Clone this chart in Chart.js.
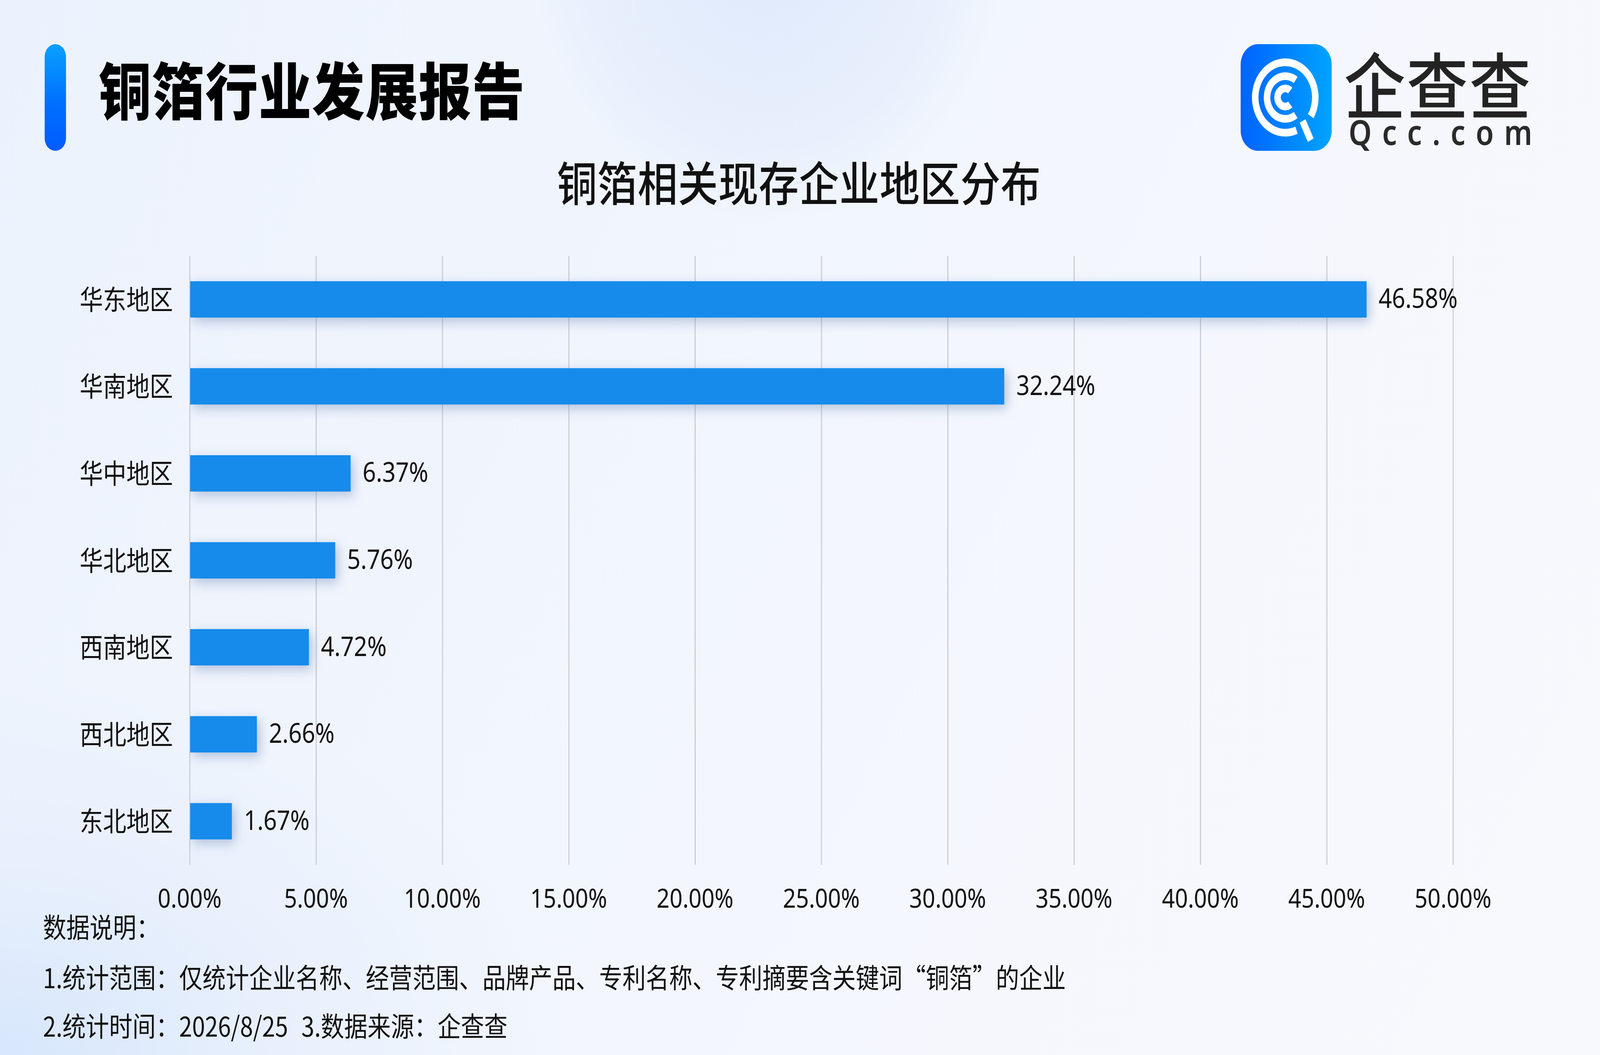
<!DOCTYPE html>
<html lang="zh-CN">
<head>
<meta charset="utf-8">
<title>铜箔行业发展报告</title>
<script src="https://cdn.jsdelivr.net/npm/chart.js@4.4.1/dist/chart.umd.min.js"></script>
<style>
  html, body {
    margin: 0;
    padding: 0;
    overflow: hidden;
    background: #f2f6fd;
  }
  #stage {
    width: 4800px;
    height: 2700px;
    position: absolute;
    left: 0;
    top: 0;
    transform-origin: 0 0;
    overflow: hidden;
    font-family: 'Noto Sans', 'Noto Sans CJK SC', sans-serif;
    color: #111;
    background:
      radial-gradient(circle at 2300px -150px, rgba(220, 232, 252, 0.9) 0px, rgba(226, 236, 252, 0.6) 520px, rgba(240, 245, 253, 0) 720px),
      radial-gradient(ellipse at 0px 2700px, rgba(214, 230, 252, 0.95) 0px, rgba(226, 236, 252, 0.5) 900px, rgba(240, 245, 253, 0) 1700px),
      linear-gradient(120deg, #ecf2fd 0%, #f2f6fd 45%, #f8f9fd 100%);
  }
  .accent {
    position: absolute;
    left: 134px;
    top: 113px;
    width: 64px;
    height: 273px;
    border-radius: 32px;
    background: linear-gradient(180deg, #0aa0ff 0%, #0070ff 55%, #005cff 100%);
  }
  .title {
    position: absolute;
    left: 296px;
    top: 142px;
    font-family: 'Noto Sans CJK SC', sans-serif;
    font-weight: 900;
    font-size: 158px;
    line-height: 166px;
    letter-spacing: 2px;
    color: #000;
    white-space: nowrap;
  }
  .subtitle {
    position: absolute;
    left: 0;
    width: 4794px;
    top: 393px;
    text-align: center;
    font-family: 'Noto Sans CJK SC', sans-serif;
    font-weight: 500;
    font-size: 120px;
    line-height: 140px;
    letter-spacing: 1px;
    color: #111;
  }
  #logoIcon {
    position: absolute;
    left: 3722px;
    top: 113px;
  }
  .brand {
    position: absolute;
    left: 4032px;
    top: 110px;
    font-family: 'Noto Sans CJK SC', sans-serif;
    font-weight: 500;
    font-size: 184px;
    line-height: 200px;
    letter-spacing: 4px;
    color: #232323;
    white-space: nowrap;
  }
  .brand-en {
    position: absolute;
    left: 4046px;
    top: 282px;
    font-family: 'Noto Sans', sans-serif;
    font-weight: 600;
    font-size: 88px;
    line-height: 110px;
    letter-spacing: 31px;
    color: #2a2a2a;
    white-space: nowrap;
  }
  #chartBox {
    position: absolute;
    left: 0;
    top: 0;
    width: 4800px;
    height: 2700px;
  }
  .note {
    position: absolute;
    left: 129px;
    font-family: 'Noto Sans CJK SC', sans-serif;
    font-size: 70px;
    line-height: 80px;
    color: #111;
    white-space: pre;
  }
  .gap {
    display: inline-block;
    width: 40px;
  }
</style>
</head>
<body>
<div id="stage">
  <div class="accent"></div>
  <div class="title">铜箔行业发展报告</div>
  <canvas id="logoIcon" width="273" height="273"></canvas>
  <div class="brand">企查查</div>
  <div class="brand-en">Qcc.com</div>
  <div class="subtitle">铜箔相关现存企业地区分布</div>
  <canvas id="chartBox" width="4800" height="2700"></canvas>
  <div class="note" style="top: 2330px;">数据说明：</div>
  <div class="note" style="top: 2459px;">1.统计范围：仅统计企业名称、经营范围、品牌产品、专利名称、专利摘要含关键词“铜箔”的企业</div>
  <div class="note" style="top: 2583px;">2.统计时间：2026/8/25<span class="gap"></span>3.数据来源：企查查</div>
</div>

<script>
// 数据
const regions = ['华东地区', '华南地区', '华中地区', '华北地区', '西南地区', '西北地区', '东北地区'];
const shares = [46.58, 32.24, 6.37, 5.76, 4.72, 2.66, 1.67];
const xMin = 0;
const xMax = 50;
const xStep = 5;

const barColor = '#168beb';

// 画布按 4800x2700 设计，缩放到实际窗口
function fitStage() {
    const stage = document.getElementById('stage');
    const sx = window.innerWidth / 4800;
    const sy = window.innerHeight / 2700;
    stage.style.transform = 'scale(' + sx + ',' + sy + ')';
}
fitStage();
window.addEventListener('resize', fitStage);

// 图标（企查查）
function drawLogo() {
    const c = document.getElementById('logoIcon');
    const ctx = c.getContext('2d');
    const s = c.width;
    const r = 52;
    const g = ctx.createLinearGradient(0, 0, s, 0);
    g.addColorStop(0, '#0063ff');
    g.addColorStop(1, '#00a4ff');
    ctx.fillStyle = g;
    ctx.beginPath();
    ctx.moveTo(r, 0);
    ctx.arcTo(s, 0, s, s, r);
    ctx.arcTo(s, s, 0, s, r);
    ctx.arcTo(0, s, 0, 0, r);
    ctx.arcTo(0, 0, s, 0, r);
    ctx.closePath();
    ctx.fill();

    const cx = s * 0.49;
    const cy = s * 0.5;
    const deg = Math.PI / 180;
    ctx.strokeStyle = '#fff';
    ctx.lineCap = 'butt';
    ctx.lineWidth = s * 0.072;
    ctx.beginPath();
    ctx.arc(cx, cy, s * 0.33, 68 * deg, (360 + 32) * deg);
    ctx.stroke();
    ctx.beginPath();
    ctx.arc(cx, cy, s * 0.2, 55 * deg, 305 * deg);
    ctx.stroke();
    ctx.beginPath();
    ctx.arc(cx, cy, s * 0.085, 50 * deg, 310 * deg);
    ctx.stroke();
    // Q 的尾巴
    ctx.beginPath();
    ctx.moveTo(s * 0.68, s * 0.72);
    ctx.lineTo(s * 0.77, s * 0.9);
    ctx.stroke();
}
drawLogo();

// 柱子阴影
const barShadow = {
    id: 'barShadow',
    beforeDatasetsDraw(chart) {
        const ctx = chart.ctx;
        ctx.save();
        ctx.shadowColor = 'rgba(70, 100, 160, 0.35)';
        ctx.shadowBlur = 28;
        ctx.shadowOffsetX = 8;
        ctx.shadowOffsetY = 10;
    },
    afterDatasetsDraw(chart) {
        chart.ctx.restore();
    }
};

// 数值标签
const valueLabels = {
    id: 'valueLabels',
    afterDatasetsDraw(chart) {
        const ctx = chart.ctx;
        const meta = chart.getDatasetMeta(0);
        ctx.save();
        ctx.font = "70px 'Noto Sans', 'Noto Sans CJK SC', sans-serif";
        ctx.fillStyle = '#111';
        ctx.textAlign = 'left';
        ctx.textBaseline = 'middle';
        meta.data.forEach((bar, i) => {
            ctx.fillText(shares[i].toFixed(2) + '%', bar.x + 36, bar.y + 2);
        });
        ctx.restore();
    }
};

new Chart(document.getElementById('chartBox'), {
    type: 'bar',
    data: {
        labels: regions,
        datasets: [{
            data: shares,
            backgroundColor: barColor,
            borderWidth: 0,
            categoryPercentage: 1,
            barPercentage: 0.418
        }]
    },
    options: {
        indexAxis: 'y',
        responsive: false,
        animation: false,
        devicePixelRatio: 1,
        layout: {
            padding: { left: 0, top: 655, right: 441, bottom: 0 }
        },
        plugins: {
            legend: { display: false },
            tooltip: { enabled: false }
        },
        scales: {
            x: {
                min: xMin,
                max: xMax,
                afterFit: function(scale) { scale.height = 487; },
                grid: {
                    color: '#c9cad0',
                    lineWidth: 3,
                    drawTicks: false
                },
                border: { display: false },
                ticks: {
                    stepSize: xStep,
                    padding: 50,
                    color: '#111',
                    font: { family: "'Noto Sans', sans-serif", size: 68 },
                    callback: function(value) { return value.toFixed(2) + '%'; }
                }
            },
            y: {
                afterFit: function(scale) { scale.width = 569; },
                grid: { display: false, drawTicks: false },
                border: { display: false },
                ticks: {
                    padding: 50,
                    color: '#111',
                    font: { family: "'Noto Sans CJK SC', sans-serif", size: 70 }
                }
            }
        }
    },
    plugins: [barShadow, valueLabels]
});
</script>
</body>
</html>
